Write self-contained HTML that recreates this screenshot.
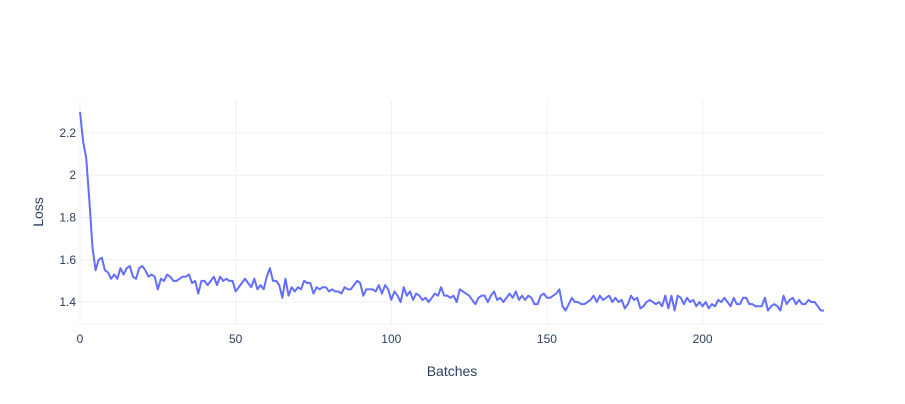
<!DOCTYPE html>
<html><head><meta charset="utf-8"><style>
body{margin:0;background:#fff;}
svg{display:block;font-family:"Liberation Sans","Open Sans",sans-serif;}
</style></head><body>
<svg id="chart" width="905" height="404">
<g id="grid"></g>
<g id="xticks"></g>
<g id="yticks"></g>
<path id="line" fill="none" stroke="#636efa" stroke-width="2" stroke-linejoin="round"></path>
<text x="452" y="376" text-anchor="middle" font-size="14" fill="#2a3f5f">Batches</text>
<text x="43" y="212" text-anchor="middle" font-size="14" fill="#2a3f5f" transform="rotate(-90 43 212)">Loss</text>
</svg>
<script>
const losses=[2.30,2.16,2.08,1.88,1.66,1.55,1.60,1.61,1.55,1.54,1.51,1.53,1.51,1.56,1.53,1.56,1.57,1.52,1.51,1.56,1.57,1.55,1.52,1.53,1.52,1.46,1.51,1.50,1.53,1.52,1.50,1.50,1.51,1.52,1.52,1.53,1.49,1.50,1.44,1.50,1.50,1.48,1.50,1.52,1.48,1.52,1.50,1.51,1.50,1.50,1.45,1.47,1.49,1.51,1.49,1.47,1.51,1.46,1.48,1.46,1.52,1.56,1.50,1.50,1.48,1.42,1.51,1.43,1.47,1.45,1.47,1.46,1.50,1.49,1.49,1.44,1.47,1.46,1.47,1.47,1.45,1.46,1.45,1.45,1.44,1.47,1.46,1.46,1.48,1.50,1.49,1.43,1.46,1.46,1.46,1.45,1.48,1.44,1.48,1.46,1.41,1.45,1.43,1.40,1.47,1.43,1.45,1.41,1.44,1.43,1.41,1.42,1.40,1.42,1.44,1.43,1.47,1.43,1.43,1.42,1.43,1.40,1.46,1.45,1.44,1.43,1.41,1.39,1.42,1.43,1.43,1.40,1.43,1.45,1.41,1.42,1.40,1.42,1.44,1.42,1.45,1.41,1.43,1.41,1.43,1.42,1.39,1.39,1.43,1.44,1.42,1.42,1.43,1.44,1.46,1.38,1.36,1.39,1.42,1.40,1.40,1.39,1.39,1.40,1.41,1.43,1.40,1.43,1.41,1.42,1.43,1.40,1.42,1.40,1.41,1.37,1.39,1.43,1.41,1.42,1.37,1.38,1.40,1.41,1.40,1.39,1.40,1.38,1.43,1.37,1.43,1.36,1.43,1.42,1.39,1.42,1.40,1.41,1.38,1.40,1.38,1.40,1.37,1.39,1.38,1.41,1.40,1.42,1.40,1.38,1.42,1.39,1.39,1.42,1.42,1.39,1.39,1.38,1.38,1.38,1.42,1.36,1.38,1.39,1.38,1.36,1.43,1.39,1.41,1.42,1.39,1.41,1.39,1.39,1.41,1.40,1.40,1.38,1.36,1.36];
const xTicks=[0,50,100,150,200];
const yTicks=[1.4,1.6,1.8,2.0,2.2];
const yTickLabels=["1.4","1.6","1.8","2","2.2"];
const X0=80,X1=824,Y0=100,Y1=324,XMAX=239,YMIN=1.296,YMAX=2.356;
const sx=v=>X0+(v/XMAX)*(X1-X0);
const sy=v=>Y1-(v-YMIN)/(YMAX-YMIN)*(Y1-Y0);
const ns="http://www.w3.org/2000/svg";
const grid=document.getElementById('grid'),xt=document.getElementById('xticks'),yt=document.getElementById('yticks');
function mk(tag,attrs,parent){const e=document.createElementNS(ns,tag);for(const k in attrs)e.setAttribute(k,attrs[k]);parent.appendChild(e);return e;}
xTicks.forEach(t=>{
  const l=mk('line',{x1:sx(t),x2:sx(t),y1:Y0,y2:Y1,stroke:t===0?'#ebf0f8':'#ebf0f8','stroke-width':1},grid);
  
  
  const tx=mk('text',{x:sx(t),y:Y1+19,'text-anchor':'middle','font-size':12,fill:'#2a3f5f'},xt);
  tx.textContent=t;
  
  
});
yTicks.forEach((t,i)=>{
  const l=mk('line',{x1:X0,x2:X1,y1:sy(t),y2:sy(t),stroke:'#ebf0f8','stroke-width':1},grid);
  
  
  const tx=mk('text',{x:X0-4,y:sy(t)+4,'text-anchor':'end','font-size':12,fill:'#2a3f5f'},yt);
  tx.textContent=yTickLabels[i];
  
  
});
const bl=mk('line',{x1:X0,x2:X1,y1:Y1,y2:Y1,stroke:'#ebf0f8','stroke-width':1},grid);


document.getElementById('line').setAttribute('d',losses.map((v,i)=>(i?'L':'M')+sx(i).toFixed(2)+','+sy(v).toFixed(2)).join(''));
</script>
</body></html>
